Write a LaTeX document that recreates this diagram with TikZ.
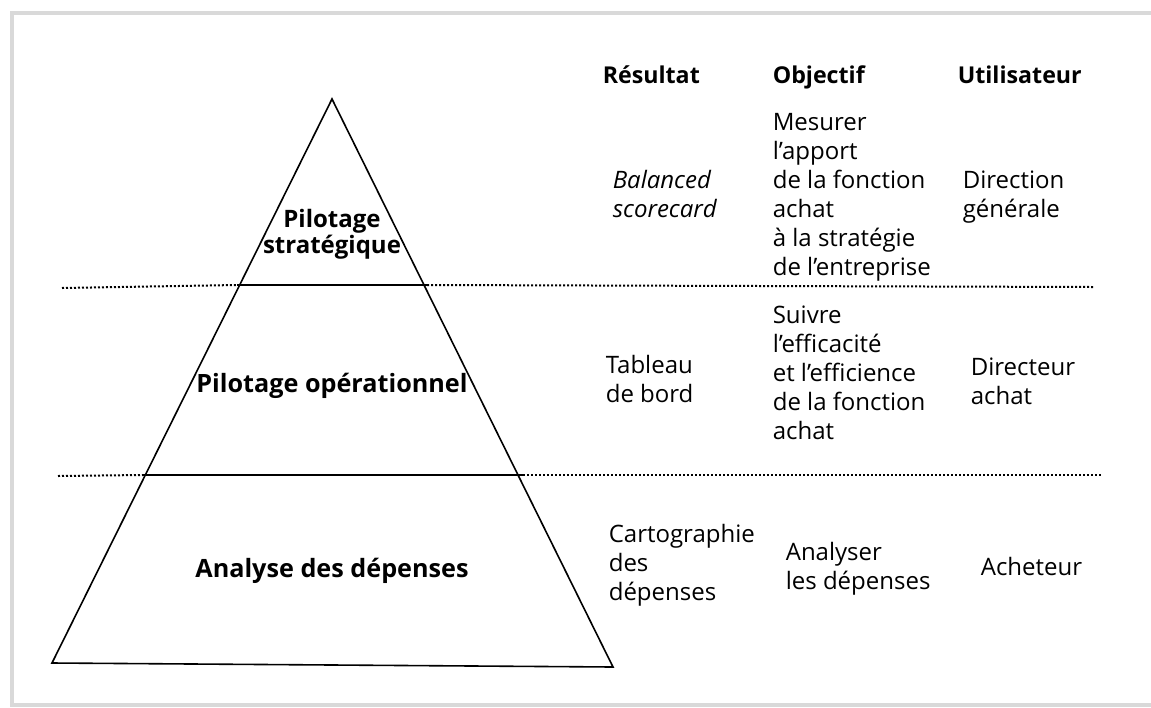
\documentclass[tikz,border=0pt]{standalone}
\usepackage{fontspec}
\setmainfont{Open Sans}
\newcommand{\cellg}[1]{\begin{tabular}[t]{@{}l@{}}#1\end{tabular}}
\newcommand{\cellc}[1]{\begin{tabular}[t]{@{}c@{}}#1\end{tabular}}

\begin{document}
\begin{tikzpicture}[x=0.5pt, y=-0.5pt, thick,
    txt/.style={anchor=base west, inner sep=0pt, font=\fontsize{12}{14.5}\selectfont},
    tete/.style={txt, font=\fontsize{11.6}{14.5}\selectfont\bfseries},
    niveau/.style={anchor=base, inner sep=0pt, font=\fontsize{12}{13}\selectfont\bfseries},
    pointille/.style={line width=1pt, dash pattern=on 1pt off 1pt}]
    \useasboundingbox (0,0) rectangle (1151,707);

    % cadre
    \draw[gray!30, line width=2pt] (1151,13) -- (12,13) -- (12,705) -- (1151,705);

    % pyramide
    \coordinate (S) at (332,99);
    \coordinate (BG) at (52,663);
    \coordinate (BD) at (613,667);
    \coordinate (G1) at (237,285);
    \coordinate (D1) at (427,285);
    \coordinate (G2) at (143,475);
    \coordinate (D2) at (523,475);
    \draw (S) -- (BG) -- (BD) -- cycle;
    \draw (G1) -- (D1);
    \draw (G2) -- (D2);

    % separations
    \coordinate (P1g) at (62,288);
    \coordinate (P1d) at (1093,287);
    \coordinate (P2g) at (58,476);
    \coordinate (P2d) at (1103,475);
    \draw[pointille] (P1g) -- (G1);
    \draw[pointille] (D1) -- (P1d);
    \draw[pointille] (P2g) -- (G2);
    \draw[pointille] (D2) -- (P2d);

    % niveaux
    \node[niveau] (strat) at (332,227) {\cellc{Pilotage\\stratégique}};
    \node[niveau, font=\fontsize{12.6}{13}\selectfont\bfseries] (oper) at (332,392) {Pilotage opérationnel};
    \node[niveau, font=\fontsize{12.6}{13}\selectfont\bfseries] (depe) at (332,577) {Analyse des dépenses};

    % en-tetes
    \node[tete] (res) at (602,83) {Résultat};
    \node[tete] (obj) at (772,83) {Objectif};
    \node[tete] (uti) at (957,83) {Utilisateur};

    % ligne 1
    \node[txt] (res1) at (612,188) {\cellg{\itshape Balanced\\\itshape scorecard}};
    \node[txt] (obj1) at (772,130) {\cellg{Mesurer\\l’apport\\de la fonction\\achat\\à la stratégie\\de l’entreprise}};
    \node[txt] (uti1) at (962,188) {\cellg{Direction\\générale}};

    % ligne 2
    \node[txt] (res2) at (605,373) {\cellg{Tableau\\de bord}};
    \node[txt] (obj2) at (772,323) {\cellg{Suivre\\l’efficacité\\et l’efficience\\de la fonction\\achat}};
    \node[txt] (uti2) at (970,375) {\cellg{Directeur\\achat}};

    % ligne 3
    \node[txt] (res3) at (608,542) {\cellg{Cartographie\\des\\dépenses}};
    \node[txt] (obj3) at (785,560) {\cellg{Analyser\\les dépenses}};
    \node[txt] (uti3) at (980,575) {Acheteur};
\end{tikzpicture}
\end{document}
